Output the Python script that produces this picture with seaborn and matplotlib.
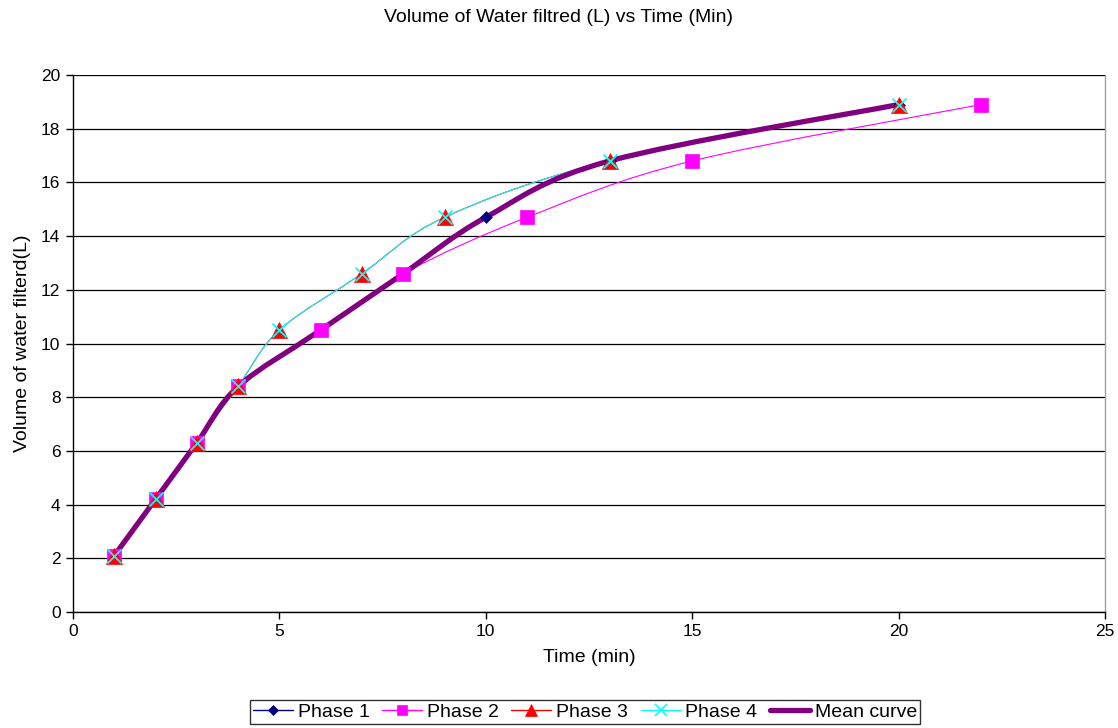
import matplotlib
matplotlib.use("Agg")
import matplotlib.pyplot as plt
import seaborn as sns
import pandas as pd
from matplotlib.lines import Line2D
from matplotlib.path import Path
from matplotlib.patches import PathPatch

# ---- data ----
phase1_x = [1, 2, 3, 4, 6, 8, 10, 13, 20]
phase1_y = [2.1, 4.2, 6.3, 8.4, 10.5, 12.6, 14.7, 16.8, 18.9]
phase2_x = [1, 2, 3, 4, 6, 8, 11, 15, 22]
phase2_y = [2.1, 4.2, 6.3, 8.4, 10.5, 12.6, 14.7, 16.8, 18.9]
phase3_x = [1, 2, 3, 4, 5, 7, 9, 13, 20]
phase3_y = [2.1, 4.2, 6.3, 8.4, 10.5, 12.6, 14.7, 16.8, 18.9]
phase4_x = [1, 2, 3, 4, 5, 7, 9, 13, 20]
phase4_y = [2.1, 4.2, 6.3, 8.4, 10.5, 12.6, 14.7, 16.8, 18.9]
mean_x = [1, 2, 3, 4, 6, 8, 10, 13, 20]
mean_y = [2.1, 4.2, 6.3, 8.4, 10.5, 12.6, 14.7, 16.8, 18.9]

title = "Volume of Water filtred (L) vs Time (Min)"
xlabel = "Time (min)"
ylabel = "Volume of water filterd(L)"
labels = ["Phase 1", "Phase 2", "Phase 3", "Phase 4", "Mean curve"]

sns.set_style("white")
plt.rcParams["font.family"] = ["Liberation Sans", "DejaVu Sans"]
plt.rcParams["text.color"] = "black"
plt.rcParams["axes.labelcolor"] = "black"
plt.rcParams["xtick.color"] = "black"
plt.rcParams["ytick.color"] = "black"

fig = plt.figure(figsize=(11.18, 7.28), dpi=100)
ax = fig.add_axes([73/1118, 1-612/728, (1105-73)/1118, (612-75)/728])


def smooth_line(ax, xs, ys, color, lw, zorder):
    """Excel-style smoothed line: Bezier segments through the data points."""
    pts = list(zip(xs, ys))
    n = len(pts)
    verts = [pts[0]]
    codes = [Path.MOVETO]
    for i in range(n - 1):
        p0 = pts[i - 1] if i > 0 else pts[i]
        p1 = pts[i]
        p2 = pts[i + 1]
        p3 = pts[i + 2] if i + 2 < n else pts[i + 1]
        c1 = (p1[0] + (p2[0] - p0[0]) / 6, p1[1] + (p2[1] - p0[1]) / 6)
        c2 = (p2[0] - (p3[0] - p1[0]) / 6, p2[1] - (p3[1] - p1[1]) / 6)
        verts += [c1, c2, p2]
        codes += [Path.CURVE4] * 3
    patch = PathPatch(Path(verts, codes), facecolor="none", edgecolor=color,
                      lw=lw, zorder=zorder, capstyle="round", joinstyle="round")
    ax.add_patch(patch)


series = [
    ("Phase 1", phase1_x, phase1_y, "#000080", "D", 6, 0.8),
    ("Phase 2", phase2_x, phase2_y, "#FF00FF", "s", 9.5, 0.8),
    ("Phase 3", phase3_x, phase3_y, "#FF0000", "^", 11.5, 0.8),
    ("Phase 4", phase4_x, phase4_y, "#00FFFF", "x", 10, 0.8),
]

for name, xs, ys, col, mk, ms, lw in series:
    smooth_line(ax, xs, ys, col, lw, 2)
smooth_line(ax, mean_x, mean_y, "#800080", 3.8, 2.5)

for name, xs, ys, col, mk, ms, lw in series:
    df = pd.DataFrame({"x": xs, "y": ys})
    sns.scatterplot(data=df, x="x", y="y", ax=ax, marker=mk, s=ms ** 2,
                    color=col, edgecolor=col,
                    linewidth=1.3 if mk == "x" else 0.5, zorder=3, legend=False)

ax.set_xlim(0, 25)
ax.set_ylim(0, 20)
ax.set_xticks(range(0, 26, 5))
ax.set_yticks(range(0, 21, 2))
ax.tick_params(axis="both", direction="out", length=5, width=1, color="black",
               labelcolor="black", labelsize=12.5, bottom=True, left=True, pad=4)
ax.yaxis.grid(True, color="black", lw=0.9)
ax.set_axisbelow(True)
for s in ["left", "bottom"]:
    ax.spines[s].set_color("black")
    ax.spines[s].set_linewidth(1)
ax.spines["top"].set_visible(False)
ax.spines["right"].set_color("#a0a0a0")
ax.spines["right"].set_linewidth(1)

ax.set_xlabel(xlabel, fontsize=14, labelpad=7, color="black")
ax.set_ylabel(ylabel, fontsize=14, labelpad=7, color="black")
fig.text(0.5, 1-18/728, title, ha="center", va="center", fontsize=14, color="black")

handles = []
for name, xs, ys, col, mk, ms, lw in series:
    handles.append(Line2D([], [], color=col, lw=1, marker=mk, markersize=ms * 0.8,
                          markeredgecolor=col, markeredgewidth=1.2 if mk == "x" else 0.5))
handles.append(Line2D([], [], color="#800080", lw=3.8))
leg = fig.legend(handles, labels, loc="center", bbox_to_anchor=(585/1118, 1-712/728),
                 ncol=5, frameon=True, fontsize=14, handlelength=2.05,
                 handletextpad=0.25, columnspacing=0.65, borderpad=0.15,
                 fancybox=False, edgecolor="black", borderaxespad=0)
leg.get_frame().set_linewidth(1)
for t in leg.get_texts():
    t.set_color("black")

fig.savefig("out.png", dpi=100)
